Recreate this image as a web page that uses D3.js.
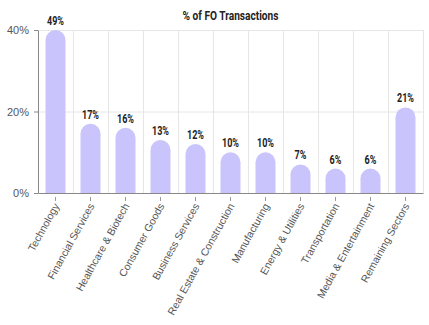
<!DOCTYPE html>
<html><head><meta charset="utf-8">
<script src="https://cdn.jsdelivr.net/npm/d3@7"></script>
<style>body{margin:0;background:#fff}svg{display:block}</style>
</head><body>
<script>
const categories = ["Technology","Financial Services","Healthcare & Biotech","Consumer Goods","Business Services","Real Estate & Construction","Manufacturing","Energy & Utilities","Transportation","Media & Entertainment","Remaining Sectors"];
const values = [49,17,16,13,12,10,10,7,6,6,21];
const yTicks = [0,20,40];
const title = "% of FO Transactions";

const W=429,H=325;
const m={l:38,r:6,t:30,b:132};
const cond="Roboto,'Liberation Sans',sans-serif";
const svg=d3.select("body").append("svg").attr("width",W).attr("height",H);
const x=d3.scaleBand().domain(categories).range([m.l,W-m.r]).paddingInner(0).paddingOuter(0);
const y=d3.scaleLinear().domain([0,40]).range([H-m.b,m.t]).clamp(true);

svg.append("text").attr("transform",`translate(${(m.l+W-m.r)/2},20) scale(0.78,1)`).attr("text-anchor","middle")
 .attr("font-family",cond).attr("font-weight","bold")
 .attr("font-size",13).attr("fill","#222").text(title);

// grid
const g=svg.append("g");
g.selectAll(".hg").data(yTicks.filter(d=>d>0)).join("line")
 .attr("x1",m.l).attr("x2",W-m.r).attr("y1",d=>y(d)+0.5).attr("y2",d=>y(d)+0.5)
 .attr("stroke","#e6e6e6");
const bounds=categories.slice(1).map(c=>x(c)).concat([W-m.r]);
g.selectAll(".vg").data(bounds).join("line")
 .attr("x1",d=>d+0.5).attr("x2",d=>d+0.5).attr("y1",m.t).attr("y2",H-m.b)
 .attr("stroke","#e6e6e6");

// bars
const bw=20;
svg.selectAll(".bar").data(values).join("path")
 .attr("fill","#c9c4fb")
 .attr("d",(d,i)=>{
   const cx=x(categories[i])+x.bandwidth()/2, x0=cx-bw/2, x1=cx+bw/2, y0=y(0), yt=y(d), r=Math.min(bw/2,(y0-yt));
   return `M${x0},${y0}L${x0},${yt+r}A${r},${r} 0 0 1 ${x0+r},${yt}L${x1-r},${yt}A${r},${r} 0 0 1 ${x1},${yt+r}L${x1},${y0}Z`;
 });
svg.selectAll(".vl").data(values).join("text")
 .attr("transform",(d,i)=>`translate(${x(categories[i])+x.bandwidth()/2},${y(d)-5}) scale(0.75,1)`)
 .attr("text-anchor","middle").attr("font-family",cond)
 .attr("font-weight","bold").attr("font-size",12).attr("fill","#222").text(d=>d+"%");

// axes
const ya=svg.append("g").attr("transform",`translate(${m.l},0)`)
 .call(d3.axisLeft(y).tickValues(yTicks).tickFormat(d=>d+"%").tickSize(4).tickSizeOuter(0));
ya.select(".domain").attr("stroke","#888");
ya.selectAll(".tick line").attr("stroke","#888");
ya.selectAll("text").attr("font-family","'Liberation Sans',Arial,sans-serif").attr("font-size",11).attr("fill","#555").attr("dx",-2);

const xa=svg.append("g").attr("transform",`translate(0,${H-m.b})`)
 .call(d3.axisBottom(x).tickSize(0).tickSizeOuter(0));
xa.select(".domain").attr("stroke","#888");
xa.selectAll(".tick").append("line").attr("y1",4).attr("y2",8).attr("stroke","#999");
xa.selectAll(".tick text").attr("font-family","'Liberation Sans',Arial,sans-serif").attr("font-size",10.5).attr("fill","#555")
 .attr("text-anchor","end").attr("transform","translate(1,11) rotate(-61)").attr("dy","0.35em").attr("y",0).attr("x",0);
</script>
</body></html>
